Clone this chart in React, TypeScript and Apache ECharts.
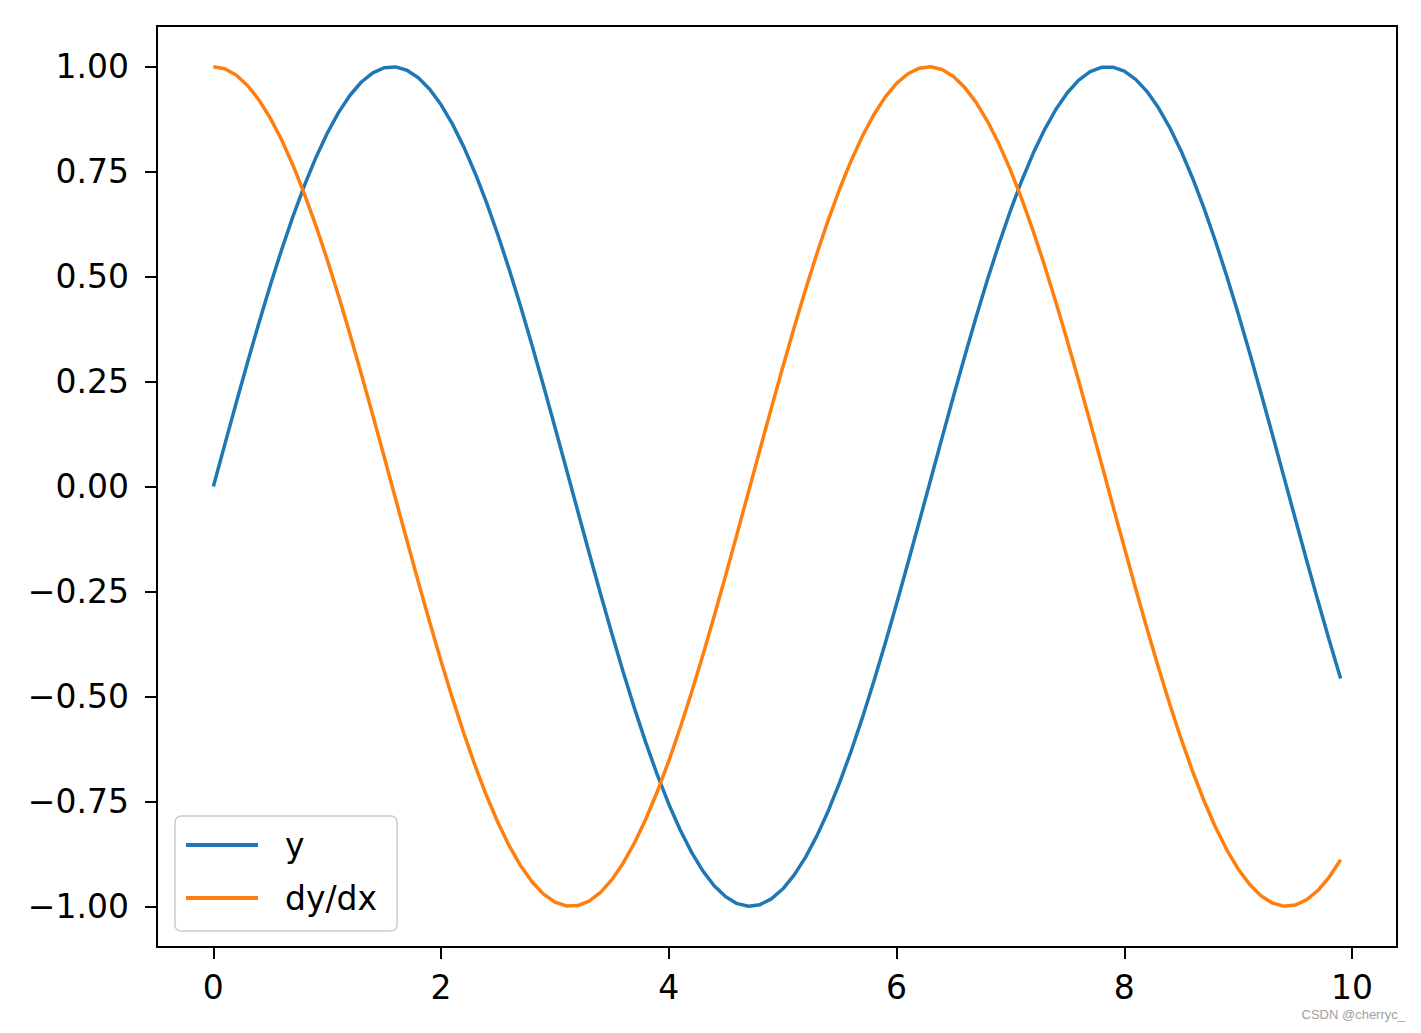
import React, { useEffect, useRef } from "react";
import * as echarts from "echarts";

const xValues = [
  0.0, 0.1, 0.2, 0.3, 0.4, 0.5, 0.6, 0.7, 0.8, 0.9,
  1.0, 1.1, 1.2, 1.3, 1.4, 1.5, 1.6, 1.7, 1.8, 1.9,
  2.0, 2.1, 2.2, 2.3, 2.4, 2.5, 2.6, 2.7, 2.8, 2.9,
  3.0, 3.1, 3.2, 3.3, 3.4, 3.5, 3.6, 3.7, 3.8, 3.9,
  4.0, 4.1, 4.2, 4.3, 4.4, 4.5, 4.6, 4.7, 4.8, 4.9,
  5.0, 5.1, 5.2, 5.3, 5.4, 5.5, 5.6, 5.7, 5.8, 5.9,
  6.0, 6.1, 6.2, 6.3, 6.4, 6.5, 6.6, 6.7, 6.8, 6.9,
  7.0, 7.1, 7.2, 7.3, 7.4, 7.5, 7.6, 7.7, 7.8, 7.9,
  8.0, 8.1, 8.2, 8.3, 8.4, 8.5, 8.6, 8.7, 8.8, 8.9,
  9.0, 9.1, 9.2, 9.3, 9.4, 9.5, 9.6, 9.7, 9.8, 9.9,
];

const yValues = [
  0.0, 0.0998, 0.1987, 0.2955, 0.3894, 0.4794, 0.5646, 0.6442, 0.7174, 0.7833,
  0.8415, 0.8912, 0.932, 0.9636, 0.9854, 0.9975, 0.9996, 0.9917, 0.9738, 0.9463,
  0.9093, 0.8632, 0.8085, 0.7457, 0.6755, 0.5985, 0.5155, 0.4274, 0.335, 0.2392,
  0.1411, 0.0416, -0.0584, -0.1577, -0.2555, -0.3508, -0.4425, -0.5298, -0.6119, -0.6878,
  -0.7568, -0.8183, -0.8716, -0.9162, -0.9516, -0.9775, -0.9937, -0.9999, -0.9962, -0.9825,
  -0.9589, -0.9258, -0.8835, -0.8323, -0.7728, -0.7055, -0.6313, -0.5507, -0.4646, -0.3739,
  -0.2794, -0.1822, -0.0831, 0.0168, 0.1165, 0.2151, 0.3115, 0.4048, 0.4941, 0.5784,
  0.657, 0.729, 0.7937, 0.8504, 0.8987, 0.938, 0.9679, 0.9882, 0.9985, 0.9989,
  0.9894, 0.9699, 0.9407, 0.9022, 0.8546, 0.7985, 0.7344, 0.663, 0.5849, 0.501,
  0.4121, 0.3191, 0.2229, 0.1245, 0.0248, -0.0752, -0.1743, -0.2718, -0.3665, -0.4575,
];

const dydxValues = [
  1.0, 0.995, 0.9801, 0.9553, 0.9211, 0.8776, 0.8253, 0.7648, 0.6967, 0.6216,
  0.5403, 0.4536, 0.3624, 0.2675, 0.17, 0.0707, -0.0292, -0.1288, -0.2272, -0.3233,
  -0.4161, -0.5048, -0.5885, -0.6663, -0.7374, -0.8011, -0.8569, -0.9041, -0.9422, -0.971,
  -0.99, -0.9991, -0.9983, -0.9875, -0.9668, -0.9365, -0.8968, -0.8481, -0.791, -0.7259,
  -0.6536, -0.5748, -0.4903, -0.4008, -0.3073, -0.2108, -0.1122, -0.0124, 0.0875, 0.1865,
  0.2837, 0.378, 0.4685, 0.5544, 0.6347, 0.7087, 0.7756, 0.8347, 0.8855, 0.9275,
  0.9602, 0.9833, 0.9965, 0.9999, 0.9932, 0.9766, 0.9502, 0.9144, 0.8694, 0.8157,
  0.7539, 0.6845, 0.6084, 0.5261, 0.4385, 0.3466, 0.2513, 0.1534, 0.054, -0.046,
  -0.1455, -0.2435, -0.3392, -0.4314, -0.5193, -0.602, -0.6787, -0.7486, -0.8111, -0.8654,
  -0.9111, -0.9477, -0.9748, -0.9922, -0.9997, -0.9972, -0.9847, -0.9624, -0.9304, -0.8892,
];

const xTicks = [0, 2, 4, 6, 8, 10];
const yTicks = [-1.0, -0.75, -0.5, -0.25, 0.0, 0.25, 0.5, 0.75, 1.0];
const seriesNames = ["y", "dy/dx"];

const FONT = "DejaVu Sans";

export default function App() {
  const ref = useRef<HTMLDivElement>(null);
  useEffect(() => {
    if (!ref.current) return;
    const chart = echarts.init(ref.current, null, { renderer: "svg" });
    const toPairs = (ys: number[]) => xValues.map((x, i) => [x, ys[i]]);
    const axisCommon = {
      axisLine: { show: true, onZero: false, lineStyle: { color: "#000", width: 2 } },
      splitLine: { show: false },
    };
    chart.setOption({
      animation: false,
      backgroundColor: "#ffffff",
      textStyle: { fontFamily: FONT },
      grid: {
        left: 157,
        right: 24,
        top: 26,
        bottom: 86,
        show: true,
        borderColor: "#000",
        borderWidth: 2,
        backgroundColor: "transparent",
        containLabel: false,
        outerBoundsMode: "none",
      },
      xAxis: {
        type: "value",
        min: -0.495,
        max: 10.395,
        ...axisCommon,
        axisTick: {
          show: true,
          inside: false,
          length: 12,
          lineStyle: { color: "#000", width: 2 },
          customValues: xTicks,
        },
        axisLabel: {
          show: true,
          customValues: xTicks,
          margin: 24,
          fontSize: 33,
          color: "#000",
          fontFamily: FONT,
          formatter: (v: number) => String(v),
        },
      },
      yAxis: {
        type: "value",
        min: -1.097,
        max: 1.097,
        ...axisCommon,
        axisTick: {
          show: true,
          inside: false,
          length: 12,
          lineStyle: { color: "#000", width: 2 },
          customValues: yTicks,
        },
        axisLabel: {
          show: true,
          customValues: yTicks,
          margin: 28,
          fontSize: 33,
          color: "#000",
          fontFamily: FONT,
          formatter: (v: number) => v.toFixed(2).replace("-", "\u2212"),
        },
      },
      legend: {
        show: true,
        orient: "vertical",
        left: 175,
        top: 816,
        padding: [11, 20, 15, 11],
        itemWidth: 72,
        itemHeight: 4,
        itemGap: 17,
        icon: "rect",
        backgroundColor: "rgba(255,255,255,0.8)",
        borderColor: "#cccccc",
        borderWidth: 1.5,
        borderRadius: 6,
        data: seriesNames,
        textStyle: {
          fontSize: 33,
          lineHeight: 36,
          color: "#000",
          fontFamily: FONT,
          padding: [0, 0, 0, 22],
        },
      },
      graphic: [
        {
          type: "text",
          right: 16,
          top: 1008,
          style: {
            text: "CSDN @cherryc_",
            fill: "#a0a0a0",
            font: "13px 'Liberation Sans', Arial, sans-serif",
          },
        },
      ],
      series: [
        {
          name: seriesNames[0],
          type: "line",
          data: toPairs(yValues),
          symbol: "none",
          showSymbol: false,
          color: "#1f77b4",
          lineStyle: { color: "#1f77b4", width: 3.5 },
        },
        {
          name: seriesNames[1],
          type: "line",
          data: toPairs(dydxValues),
          symbol: "none",
          showSymbol: false,
          color: "#ff7f0e",
          lineStyle: { color: "#ff7f0e", width: 3.5 },
        },
      ],
    });
    return () => chart.dispose();
  }, []);
  return (
    <div
      ref={ref}
      style={{ position: "fixed", left: 0, top: 0, width: 1421, height: 1033, background: "#fff" }}
    />
  );
}
